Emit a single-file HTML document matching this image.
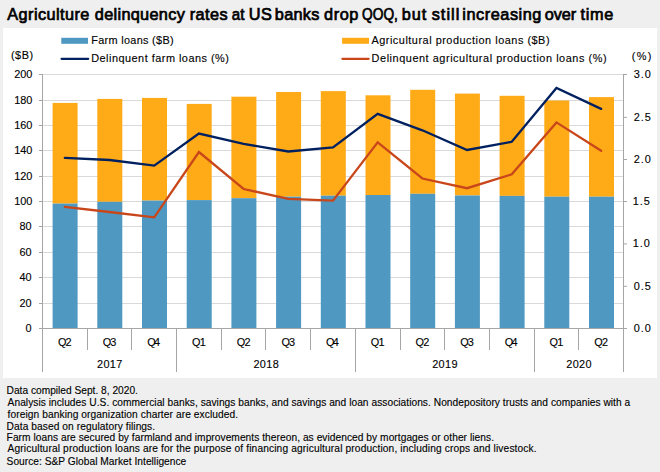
<!DOCTYPE html><html><head><meta charset="utf-8"><style>html,body{margin:0;padding:0;background:#efefef;}svg{display:block}text{font-family:"Liberation Sans", sans-serif;fill:#000;stroke:#000;stroke-width:0.12px}</style></head><body>
<svg width="660" height="472" viewBox="0 0 660 472">
<rect x="0" y="0" width="660" height="472" fill="#efefef"/>
<rect x="3" y="28" width="654" height="350" fill="#fff"/>
<rect x="61.3" y="37.8" width="26.7" height="6" fill="#4F98C1"/>
<line x1="61.6" y1="58.8" x2="88.2" y2="58.8" stroke="#002060" stroke-width="2.3" stroke-linecap="round"/>
<rect x="342.1" y="37.8" width="26.9" height="6" fill="#FFAB18"/>
<line x1="342.4" y1="58.8" x2="368.6" y2="58.8" stroke="#C8461A" stroke-width="2.3" stroke-linecap="round"/>
<line x1="43" y1="74.5" x2="623" y2="74.5" stroke="#d9d9d9" stroke-width="1"/>
<line x1="39" y1="74.5" x2="43" y2="74.5" stroke="#a6a6a6" stroke-width="1"/>
<line x1="43" y1="100.5" x2="623" y2="100.5" stroke="#d9d9d9" stroke-width="1"/>
<line x1="39" y1="100.5" x2="43" y2="100.5" stroke="#a6a6a6" stroke-width="1"/>
<line x1="43" y1="125.5" x2="623" y2="125.5" stroke="#d9d9d9" stroke-width="1"/>
<line x1="39" y1="125.5" x2="43" y2="125.5" stroke="#a6a6a6" stroke-width="1"/>
<line x1="43" y1="150.5" x2="623" y2="150.5" stroke="#d9d9d9" stroke-width="1"/>
<line x1="39" y1="150.5" x2="43" y2="150.5" stroke="#a6a6a6" stroke-width="1"/>
<line x1="43" y1="176.5" x2="623" y2="176.5" stroke="#d9d9d9" stroke-width="1"/>
<line x1="39" y1="176.5" x2="43" y2="176.5" stroke="#a6a6a6" stroke-width="1"/>
<line x1="43" y1="201.5" x2="623" y2="201.5" stroke="#d9d9d9" stroke-width="1"/>
<line x1="39" y1="201.5" x2="43" y2="201.5" stroke="#a6a6a6" stroke-width="1"/>
<line x1="43" y1="226.5" x2="623" y2="226.5" stroke="#d9d9d9" stroke-width="1"/>
<line x1="39" y1="226.5" x2="43" y2="226.5" stroke="#a6a6a6" stroke-width="1"/>
<line x1="43" y1="252.5" x2="623" y2="252.5" stroke="#d9d9d9" stroke-width="1"/>
<line x1="39" y1="252.5" x2="43" y2="252.5" stroke="#a6a6a6" stroke-width="1"/>
<line x1="43" y1="277.5" x2="623" y2="277.5" stroke="#d9d9d9" stroke-width="1"/>
<line x1="39" y1="277.5" x2="43" y2="277.5" stroke="#a6a6a6" stroke-width="1"/>
<line x1="43" y1="303.5" x2="623" y2="303.5" stroke="#d9d9d9" stroke-width="1"/>
<line x1="39" y1="303.5" x2="43" y2="303.5" stroke="#a6a6a6" stroke-width="1"/>
<line x1="39" y1="328.5" x2="43" y2="328.5" stroke="#a6a6a6" stroke-width="1"/>
<line x1="623" y1="74.5" x2="627" y2="74.5" stroke="#a6a6a6" stroke-width="1"/>
<line x1="623" y1="117.4" x2="627" y2="117.4" stroke="#a6a6a6" stroke-width="1"/>
<line x1="623" y1="159.5" x2="627" y2="159.5" stroke="#a6a6a6" stroke-width="1"/>
<line x1="623" y1="201.5" x2="627" y2="201.5" stroke="#a6a6a6" stroke-width="1"/>
<line x1="623" y1="243.9" x2="627" y2="243.9" stroke="#a6a6a6" stroke-width="1"/>
<line x1="623" y1="286.3" x2="627" y2="286.3" stroke="#a6a6a6" stroke-width="1"/>
<line x1="623" y1="328.5" x2="627" y2="328.5" stroke="#a6a6a6" stroke-width="1"/>
<rect x="52.60" y="102.9" width="25" height="100.70" fill="#FFAB18"/>
<rect x="52.60" y="203.6" width="25" height="124.40" fill="#4F98C1"/>
<rect x="97.30" y="98.9" width="25" height="102.90" fill="#FFAB18"/>
<rect x="97.30" y="201.8" width="25" height="126.20" fill="#4F98C1"/>
<rect x="142.00" y="97.9" width="25" height="102.70" fill="#FFAB18"/>
<rect x="142.00" y="200.6" width="25" height="127.40" fill="#4F98C1"/>
<rect x="186.70" y="103.9" width="25" height="96.20" fill="#FFAB18"/>
<rect x="186.70" y="200.1" width="25" height="127.90" fill="#4F98C1"/>
<rect x="231.40" y="96.7" width="25" height="101.50" fill="#FFAB18"/>
<rect x="231.40" y="198.2" width="25" height="129.80" fill="#4F98C1"/>
<rect x="276.10" y="92.0" width="25" height="104.70" fill="#FFAB18"/>
<rect x="276.10" y="196.7" width="25" height="131.30" fill="#4F98C1"/>
<rect x="320.80" y="91.1" width="25" height="104.60" fill="#FFAB18"/>
<rect x="320.80" y="195.7" width="25" height="132.30" fill="#4F98C1"/>
<rect x="365.50" y="95.3" width="25" height="99.70" fill="#FFAB18"/>
<rect x="365.50" y="195.0" width="25" height="133.00" fill="#4F98C1"/>
<rect x="410.20" y="89.8" width="25" height="104.00" fill="#FFAB18"/>
<rect x="410.20" y="193.8" width="25" height="134.20" fill="#4F98C1"/>
<rect x="454.90" y="93.6" width="25" height="101.90" fill="#FFAB18"/>
<rect x="454.90" y="195.5" width="25" height="132.50" fill="#4F98C1"/>
<rect x="499.60" y="95.8" width="25" height="100.10" fill="#FFAB18"/>
<rect x="499.60" y="195.9" width="25" height="132.10" fill="#4F98C1"/>
<rect x="544.30" y="100.5" width="25" height="96.20" fill="#FFAB18"/>
<rect x="544.30" y="196.7" width="25" height="131.30" fill="#4F98C1"/>
<rect x="589.00" y="97.1" width="25" height="99.60" fill="#FFAB18"/>
<rect x="589.00" y="196.7" width="25" height="131.30" fill="#4F98C1"/>
<line x1="42.5" y1="74" x2="42.5" y2="372" stroke="#a6a6a6" stroke-width="1"/>
<line x1="623.5" y1="74" x2="623.5" y2="372" stroke="#a6a6a6" stroke-width="1"/>
<line x1="39" y1="328.5" x2="627" y2="328.5" stroke="#a6a6a6" stroke-width="1"/>
<line x1="87.5" y1="328.5" x2="87.5" y2="350" stroke="#a6a6a6" stroke-width="1"/>
<line x1="131.5" y1="328.5" x2="131.5" y2="350" stroke="#a6a6a6" stroke-width="1"/>
<line x1="176.5" y1="328.5" x2="176.5" y2="372" stroke="#a6a6a6" stroke-width="1"/>
<line x1="221.5" y1="328.5" x2="221.5" y2="350" stroke="#a6a6a6" stroke-width="1"/>
<line x1="265.5" y1="328.5" x2="265.5" y2="350" stroke="#a6a6a6" stroke-width="1"/>
<line x1="310.5" y1="328.5" x2="310.5" y2="350" stroke="#a6a6a6" stroke-width="1"/>
<line x1="355.5" y1="328.5" x2="355.5" y2="372" stroke="#a6a6a6" stroke-width="1"/>
<line x1="400.5" y1="328.5" x2="400.5" y2="350" stroke="#a6a6a6" stroke-width="1"/>
<line x1="444.5" y1="328.5" x2="444.5" y2="350" stroke="#a6a6a6" stroke-width="1"/>
<line x1="489.5" y1="328.5" x2="489.5" y2="350" stroke="#a6a6a6" stroke-width="1"/>
<line x1="534.5" y1="328.5" x2="534.5" y2="372" stroke="#a6a6a6" stroke-width="1"/>
<line x1="578.5" y1="328.5" x2="578.5" y2="350" stroke="#a6a6a6" stroke-width="1"/>
<polyline points="64.85,157.9 109.54,160.0 154.23,165.6 198.92,133.6 243.62,143.9 288.31,151.5 333.00,147.4 377.69,113.8 422.38,130.3 467.08,150.0 511.77,141.8 556.46,88.0 601.15,108.9" fill="none" stroke="#002060" stroke-width="2.3" stroke-linejoin="miter" stroke-linecap="round"/>
<polyline points="64.85,206.8 109.54,212.0 154.23,217.3 198.92,152.0 243.62,189.0 288.31,198.9 333.00,200.6 377.69,142.4 422.38,178.5 467.08,188.2 511.77,174.3 556.46,122.4 601.15,150.8" fill="none" stroke="#C8461A" stroke-width="2.3" stroke-linejoin="miter" stroke-linecap="round"/>
<text x="7.30" y="19.6" font-size="16.3" style="stroke-width:0.7px" textLength="82.03" lengthAdjust="spacing">Agriculture</text>
<text x="94.80" y="19.6" font-size="16.3" style="stroke-width:0.7px" textLength="90.01" lengthAdjust="spacing">delinquency</text>
<text x="189.80" y="19.6" font-size="16.3" style="stroke-width:0.7px" textLength="37.80" lengthAdjust="spacing">rates</text>
<text x="231.80" y="19.6" font-size="16.3" style="stroke-width:0.7px" textLength="12.62" lengthAdjust="spacingAndGlyphs">at</text>
<text x="248.80" y="19.6" font-size="16.3" style="stroke-width:0.7px" textLength="23.12" lengthAdjust="spacing">US</text>
<text x="274.80" y="19.6" font-size="16.3" style="stroke-width:0.7px" textLength="44.55" lengthAdjust="spacing">banks</text>
<text x="324.00" y="19.6" font-size="16.3" style="stroke-width:0.7px" textLength="34.39" lengthAdjust="spacing">drop</text>
<text x="362.10" y="19.6" font-size="16.3" style="stroke-width:0.7px" textLength="35.85" lengthAdjust="spacingAndGlyphs">QOQ,</text>
<text x="401.80" y="19.6" font-size="16.3" style="stroke-width:0.7px" textLength="24.44" lengthAdjust="spacing">but</text>
<text x="431.70" y="19.6" font-size="16.3" style="stroke-width:0.7px" textLength="27.62" lengthAdjust="spacing">still</text>
<text x="462.20" y="19.6" font-size="16.3" style="stroke-width:0.7px" textLength="79.22" lengthAdjust="spacing">increasing</text>
<text x="544.70" y="19.6" font-size="16.3" style="stroke-width:0.7px" textLength="31.49" lengthAdjust="spacing">over</text>
<text x="580.40" y="19.6" font-size="16.3" style="stroke-width:0.7px" textLength="32.97" lengthAdjust="spacing">time</text>
<text x="91.30" y="43.7" font-size="10.9" textLength="82.28" lengthAdjust="spacing">Farm loans ($B)</text>
<text x="91.20" y="62.0" font-size="10.9" textLength="137.71" lengthAdjust="spacing">Delinquent farm loans (%)</text>
<text x="371.40" y="43.7" font-size="10.9" textLength="178.13" lengthAdjust="spacing">Agricultural production loans ($B)</text>
<text x="371.60" y="62.0" font-size="10.9" textLength="234.98" lengthAdjust="spacing">Delinquent agricultural production loans (%)</text>
<text x="10.90" y="59.3" font-size="10.9" textLength="22.28" lengthAdjust="spacing">($B)</text>
<text x="631.70" y="59.5" font-size="10.9" textLength="19.64" lengthAdjust="spacing">(%)</text>
<text x="14.20" y="77.8" font-size="10.9">200</text>
<text x="14.20" y="103.8" font-size="10.9">180</text>
<text x="14.20" y="128.8" font-size="10.9">160</text>
<text x="14.20" y="153.8" font-size="10.9">140</text>
<text x="14.20" y="179.8" font-size="10.9">120</text>
<text x="14.20" y="204.8" font-size="10.9">100</text>
<text x="19.40" y="229.8" font-size="10.9">80</text>
<text x="19.40" y="255.8" font-size="10.9">60</text>
<text x="19.40" y="280.8" font-size="10.9">40</text>
<text x="19.40" y="306.8" font-size="10.9">20</text>
<text x="25.40" y="331.8" font-size="10.9">0</text>
<text x="633.70" y="77.8" font-size="10.9" textLength="17.14" lengthAdjust="spacing">3.0</text>
<text x="633.70" y="120.7" font-size="10.9" textLength="17.14" lengthAdjust="spacing">2.5</text>
<text x="633.70" y="162.8" font-size="10.9" textLength="17.14" lengthAdjust="spacing">2.0</text>
<text x="632.70" y="204.8" font-size="10.9" textLength="17.14" lengthAdjust="spacing">1.5</text>
<text x="632.70" y="247.20000000000002" font-size="10.9" textLength="17.14" lengthAdjust="spacing">1.0</text>
<text x="633.70" y="289.6" font-size="10.9" textLength="17.14" lengthAdjust="spacing">0.5</text>
<text x="633.70" y="331.8" font-size="10.9" textLength="17.14" lengthAdjust="spacing">0.0</text>
<text x="57.95" y="346.0" font-size="10.9" textLength="13.73" lengthAdjust="spacing">Q2</text>
<text x="102.64" y="346.0" font-size="10.9" textLength="13.73" lengthAdjust="spacing">Q3</text>
<text x="147.33" y="346.0" font-size="10.9" textLength="12.73" lengthAdjust="spacing">Q4</text>
<text x="192.02" y="346.0" font-size="10.9" textLength="13.73" lengthAdjust="spacing">Q1</text>
<text x="236.72" y="346.0" font-size="10.9" textLength="13.73" lengthAdjust="spacing">Q2</text>
<text x="281.41" y="346.0" font-size="10.9" textLength="13.73" lengthAdjust="spacing">Q3</text>
<text x="326.10" y="346.0" font-size="10.9" textLength="12.73" lengthAdjust="spacing">Q4</text>
<text x="370.79" y="346.0" font-size="10.9" textLength="13.73" lengthAdjust="spacing">Q1</text>
<text x="415.48" y="346.0" font-size="10.9" textLength="13.73" lengthAdjust="spacing">Q2</text>
<text x="460.18" y="346.0" font-size="10.9" textLength="13.73" lengthAdjust="spacing">Q3</text>
<text x="504.87" y="346.0" font-size="10.9" textLength="12.73" lengthAdjust="spacing">Q4</text>
<text x="549.56" y="346.0" font-size="10.9" textLength="13.73" lengthAdjust="spacing">Q1</text>
<text x="594.25" y="346.0" font-size="10.9" textLength="13.73" lengthAdjust="spacing">Q2</text>
<text x="97.04" y="367.8" font-size="10.9" textLength="25.23" lengthAdjust="spacing">2017</text>
<text x="253.46" y="367.8" font-size="10.9" textLength="25.23" lengthAdjust="spacing">2018</text>
<text x="432.23" y="367.8" font-size="10.9" textLength="25.23" lengthAdjust="spacing">2019</text>
<text x="566.31" y="367.8" font-size="10.9" textLength="25.23" lengthAdjust="spacing">2020</text>
<text x="6.60" y="393.6" font-size="10.2" textLength="131.29" lengthAdjust="spacing">Data compiled Sept. 8, 2020.</text>
<text x="7.60" y="405.7" font-size="10.2" textLength="622.63" lengthAdjust="spacing">Analysis includes U.S. commercial banks, savings banks, and savings and loan associations. Nondepository trusts and companies with a</text>
<text x="7.60" y="417.6" font-size="10.2" textLength="230.45" lengthAdjust="spacing">foreign banking organization charter are excluded.</text>
<text x="6.60" y="429.7" font-size="10.2" textLength="148.51" lengthAdjust="spacing">Data based on regulatory filings.</text>
<text x="6.60" y="440.9" font-size="10.2" textLength="487.37" lengthAdjust="spacing">Farm loans are secured by farmland and improvements thereon, as evidenced by mortgages or other liens.</text>
<text x="7.60" y="452.2" font-size="10.2" textLength="529.04" lengthAdjust="spacing">Agricultural production loans are for the purpose of financing agricultural production, including crops and livestock.</text>
<text x="6.60" y="464.5" font-size="10.2" textLength="179.67" lengthAdjust="spacing">Source: S&amp;P Global Market Intelligence</text>
</svg></body></html>
